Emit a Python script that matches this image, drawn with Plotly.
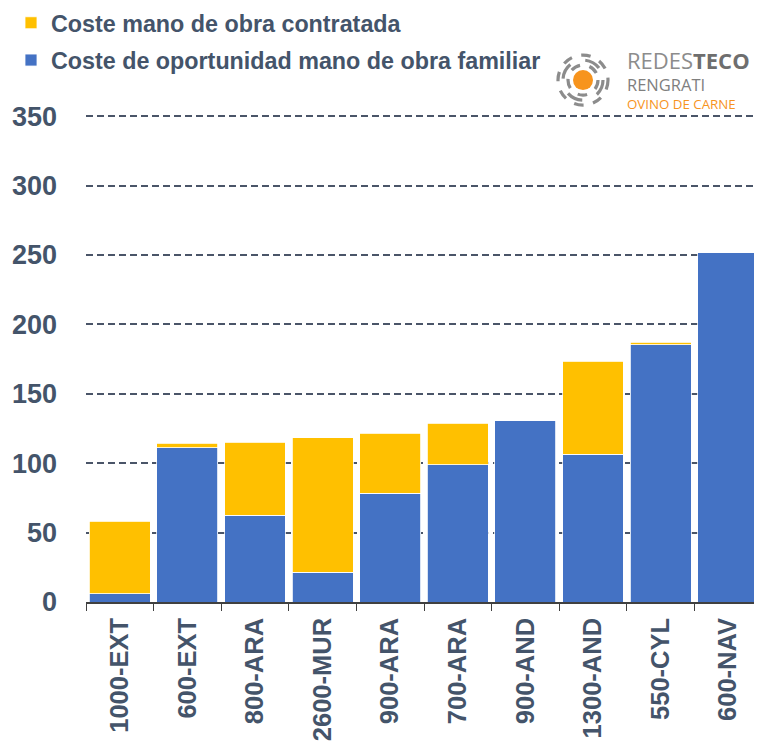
import plotly.graph_objects as go

categories = ["1000-EXT", "600-EXT", "800-ARA", "2600-MUR", "900-ARA",
              "700-ARA", "900-AND", "1300-AND", "550-CYL", "600-NAV"]
familiar = [5.8, 111.0, 62.6, 21.6, 78.5, 99.0, 131.0, 106.6, 185.4, 252.0]
contratada = [52.5, 3.5, 52.4, 96.8, 43.2, 29.9, 0.0, 66.9, 1.8, 0.0]
yticks = [0, 50, 100, 150, 200, 250, 300, 350]

TXT = "#44546A"
FONT = "Liberation Sans, Arial, sans-serif"

fig = go.Figure()
fig.add_trace(go.Bar(
    x=categories, y=familiar, name="Coste de oportunidad mano de obra familiar",
    marker=dict(color="#4472C4", line=dict(color="#ffffff", width=0.8)),
    legendgroup="b", legendrank=2))
fig.add_trace(go.Bar(
    x=categories, y=contratada, name="Coste mano de obra contratada",
    marker=dict(color="#FFC000", line=dict(color="#ffffff", width=0.8)),
    legendgroup="a", legendrank=1))

# The page body has an 8px margin: the figure starts at (8, 8) on screen.
OFF = 8
W, H = 762 - OFF, 743 - OFF
# target plot area on screen: x 86..762, y 116(=350)..602(=0)
YMAX = 351.5
L = 86 - OFF
R = 0
B = 743 - 602
PH_350 = 486
PH = PH_350 * YMAX / 350
T = H - B - PH
PW = W - L - R

def px(x):  # screen pixel -> paper
    return (x - OFF - L) / PW

def py(y):  # screen pixel -> paper
    return (H - B - (y - OFF)) / PH

fig.update_layout(
    width=W, height=H,
    margin=dict(l=L, r=R, t=T, b=B, autoexpand=False),
    barmode="stack", bargap=0.1,
    plot_bgcolor="white", paper_bgcolor="white",
    font=dict(family=FONT, color=TXT),
    legend=dict(
        x=px(11), y=py(1), xanchor="left", yanchor="top",
        traceorder="grouped", tracegroupgap=4,
        font=dict(size=23.3, color=TXT, family=FONT, weight="bold"),
        itemwidth=30, bgcolor="rgba(0,0,0,0)"),
    xaxis=dict(
        type="category", tickangle=-90,
        tickfont=dict(size=25.5, color=TXT, family=FONT, weight="bold"),
        showline=True, linecolor="#404040", linewidth=1.5,
        ticks="outside", tickson="boundaries", ticklen=7,
        tickcolor="#404040", tickwidth=1.2, ticklabelstandoff=4,
        showgrid=False),
    yaxis=dict(
        range=[0, YMAX], tickvals=yticks,
        tickfont=dict(size=27, color=TXT, family=FONT, weight="bold"),
        showgrid=True, gridcolor="#4A5568", griddash="7px,4px", gridwidth=1.8,
        zeroline=False, showline=False, ticks="", ticklabelstandoff=28),
)

# logo: concentric dashed rings + orange dot
cx, cy = 583, 80
fig.add_shape(type="circle", xref="paper", yref="paper",
              xsizemode="pixel", ysizemode="pixel",
              xanchor=px(cx), yanchor=py(cy),
              x0=-10, x1=10, y0=-10, y1=10,
              fillcolor="#F7941D", line=dict(width=0))
for r, dash in [(15, "dash"), (20, "longdash"), (25, "dash")]:
    fig.add_shape(type="circle", xref="paper", yref="paper",
                  xsizemode="pixel", ysizemode="pixel",
                  xanchor=px(cx), yanchor=py(cy),
                  x0=-r, x1=r, y0=-r, y1=r,
                  line=dict(color="#8C8C8C", width=3.2, dash=dash))

fig.add_annotation(xref="paper", yref="paper", x=px(626), y=py(59.5),
                   xanchor="left", yanchor="middle", showarrow=False, borderpad=0,
                   text="<span style='color:#8C8C8C'>REDES</span><b style='color:#6E6E6E'>TECO</b>",
                   font=dict(size=22, family="Open Sans, sans-serif"))
fig.add_annotation(xref="paper", yref="paper", x=px(626), y=py(84.5),
                   xanchor="left", yanchor="middle", showarrow=False, borderpad=0,
                   text="RENGRATI",
                   font=dict(size=16.5, color="#7F7F7F", family="Open Sans, sans-serif"))
fig.add_annotation(xref="paper", yref="paper", x=px(626), y=py(103.5),
                   xanchor="left", yanchor="middle", showarrow=False, borderpad=0,
                   text="OVINO DE CARNE",
                   font=dict(size=13.3, color="#F7941D", family="Open Sans, sans-serif"))

fig.write_html("out.html")
